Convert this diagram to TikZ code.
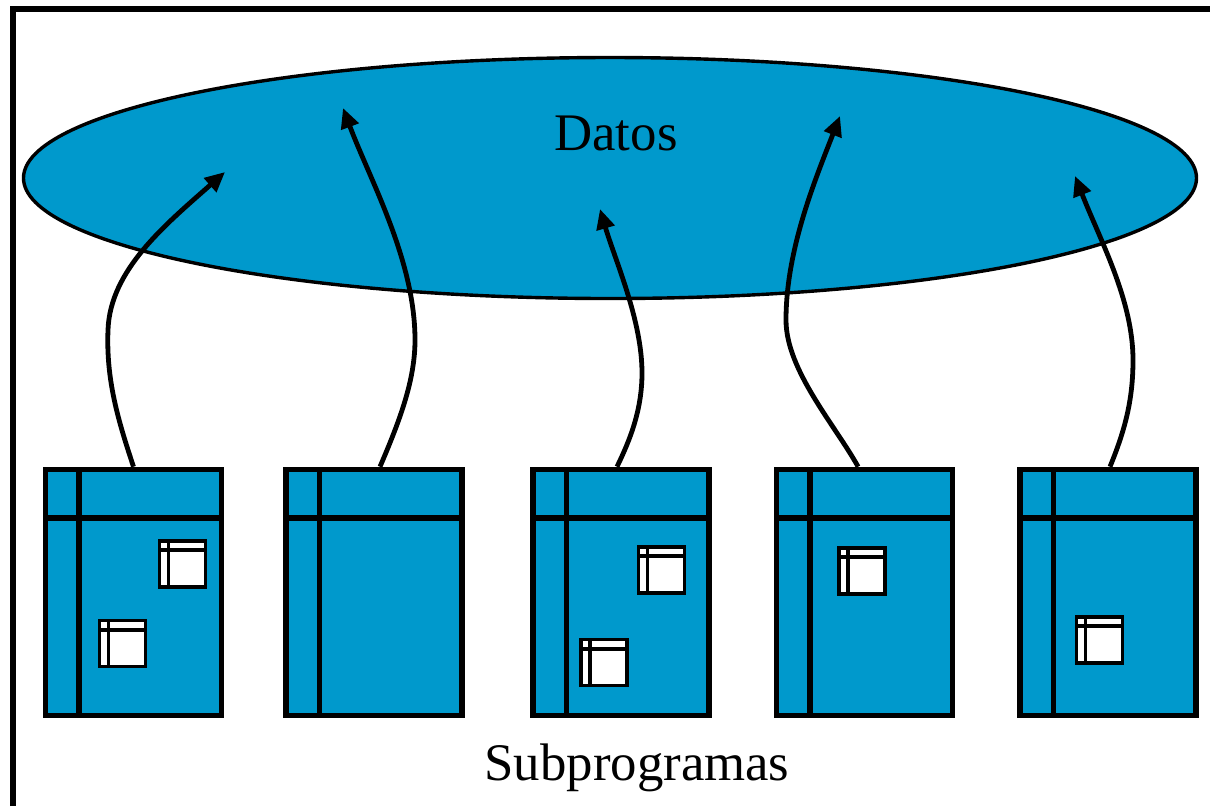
\documentclass[tikz,border=0pt]{standalone}
\usepackage{fontspec}
\setmainfont{Liberation Serif}
\usetikzlibrary{shapes.geometric,arrows.meta}
\definecolor{datablue}{RGB}{0,153,204}
\tikzset{
  subbox/.style={draw, line width=1.4pt, fill=datablue, minimum width=44pt, minimum height=61.5pt, inner sep=0pt,
    path picture={
      \draw[line width=1.4pt] ([xshift=8.4pt]path picture bounding box.north west) -- ([xshift=8.4pt]path picture bounding box.south west);
      \draw[line width=1.4pt] ([yshift=-12.1pt]path picture bounding box.north west) -- ([yshift=-12.1pt]path picture bounding box.north east);}},
  iconbox/.style={draw, line width=0.9pt, fill=white, minimum width=11.5pt, minimum height=11.5pt, inner sep=0pt,
    path picture={
      \draw[line width=0.9pt] ([xshift=2.2pt]path picture bounding box.north west) -- ([xshift=2.2pt]path picture bounding box.south west);
      \draw[line width=0.9pt] ([yshift=-2.3pt]path picture bounding box.north west) -- ([yshift=-2.3pt]path picture bounding box.north east);}},
  access/.style={line width=1.2pt, -{Triangle[length=5pt,width=4.5pt]}}
}
\begin{document}
\begin{tikzpicture}[x=0.25pt,y=-0.25pt]
\useasboundingbox (0,0) rectangle (1210,806);
\fontsize{13.2pt}{15pt}\selectfont

%frame
\draw[line width=1.5pt] (13,806) -- (13,9) -- (1210,9);

%data
\node[ellipse, draw, line width=0.85pt, fill=datablue, inner sep=0pt,
      minimum width=293.25pt, minimum height=60.25pt] (datos)      at ( 610,178) {};
\node[anchor=base]                                   (datosLabel) at ( 616,150) {Datos};

%subprograms
\node[subbox]  (sub1)   at (133.5,592.5) {};
\node[subbox]  (sub2)   at (  374,592.5) {};
\node[subbox]  (sub3)   at (  621,592.5) {};
\node[subbox]  (sub4)   at (864.5,592.5) {};
\node[subbox]  (sub5)   at ( 1108,592.5) {};
\node[iconbox] (icon1a) at (182.5,  564) {};
\node[iconbox] (icon1b) at (122.5,643.5) {};
\node[iconbox] (icon3a) at (661.5,  570) {};
\node[iconbox] (icon3b) at (  604,662.5) {};
\node[iconbox] (icon4)  at (  862,  571) {};
\node[iconbox] (icon5)  at (1099.5, 640) {};
\node[anchor=base] (subLabel) at (637,780) {Subprogramas};

%accesses
\coordinate (tip1) at ( 225,172);
\coordinate (tip2) at ( 343,108);
\coordinate (tip3) at ( 600,209);
\coordinate (tip4) at ( 840,116);
\coordinate (tip5) at (1075,176);
\draw[access] (sub1.north) .. controls (118,420) and (106,380) .. (108,330) .. controls (110,270) and (165,225) .. (tip1);
\draw[access] ([xshift=1.5pt]sub2.north) .. controls (400,420) and (415,380) .. (415,340) .. controls (415,260) and (370,180) .. (tip2);
\draw[access] ([xshift=-1pt]sub3.north) .. controls (630,440) and (642,410) .. (642,373) .. controls (642,320) and (615,260) .. (tip3);
\draw[access] ([xshift=-1.6pt]sub4.north) .. controls (835,425) and (786,370) .. (786,320) .. controls (786,250) and (815,180) .. (tip4);
\draw[access] ([xshift=0.5pt]sub5.north) .. controls (1125,430) and (1133,400) .. (1133,360) .. controls (1133,300) and (1100,240) .. (tip5);
\end{tikzpicture}
\end{document}
